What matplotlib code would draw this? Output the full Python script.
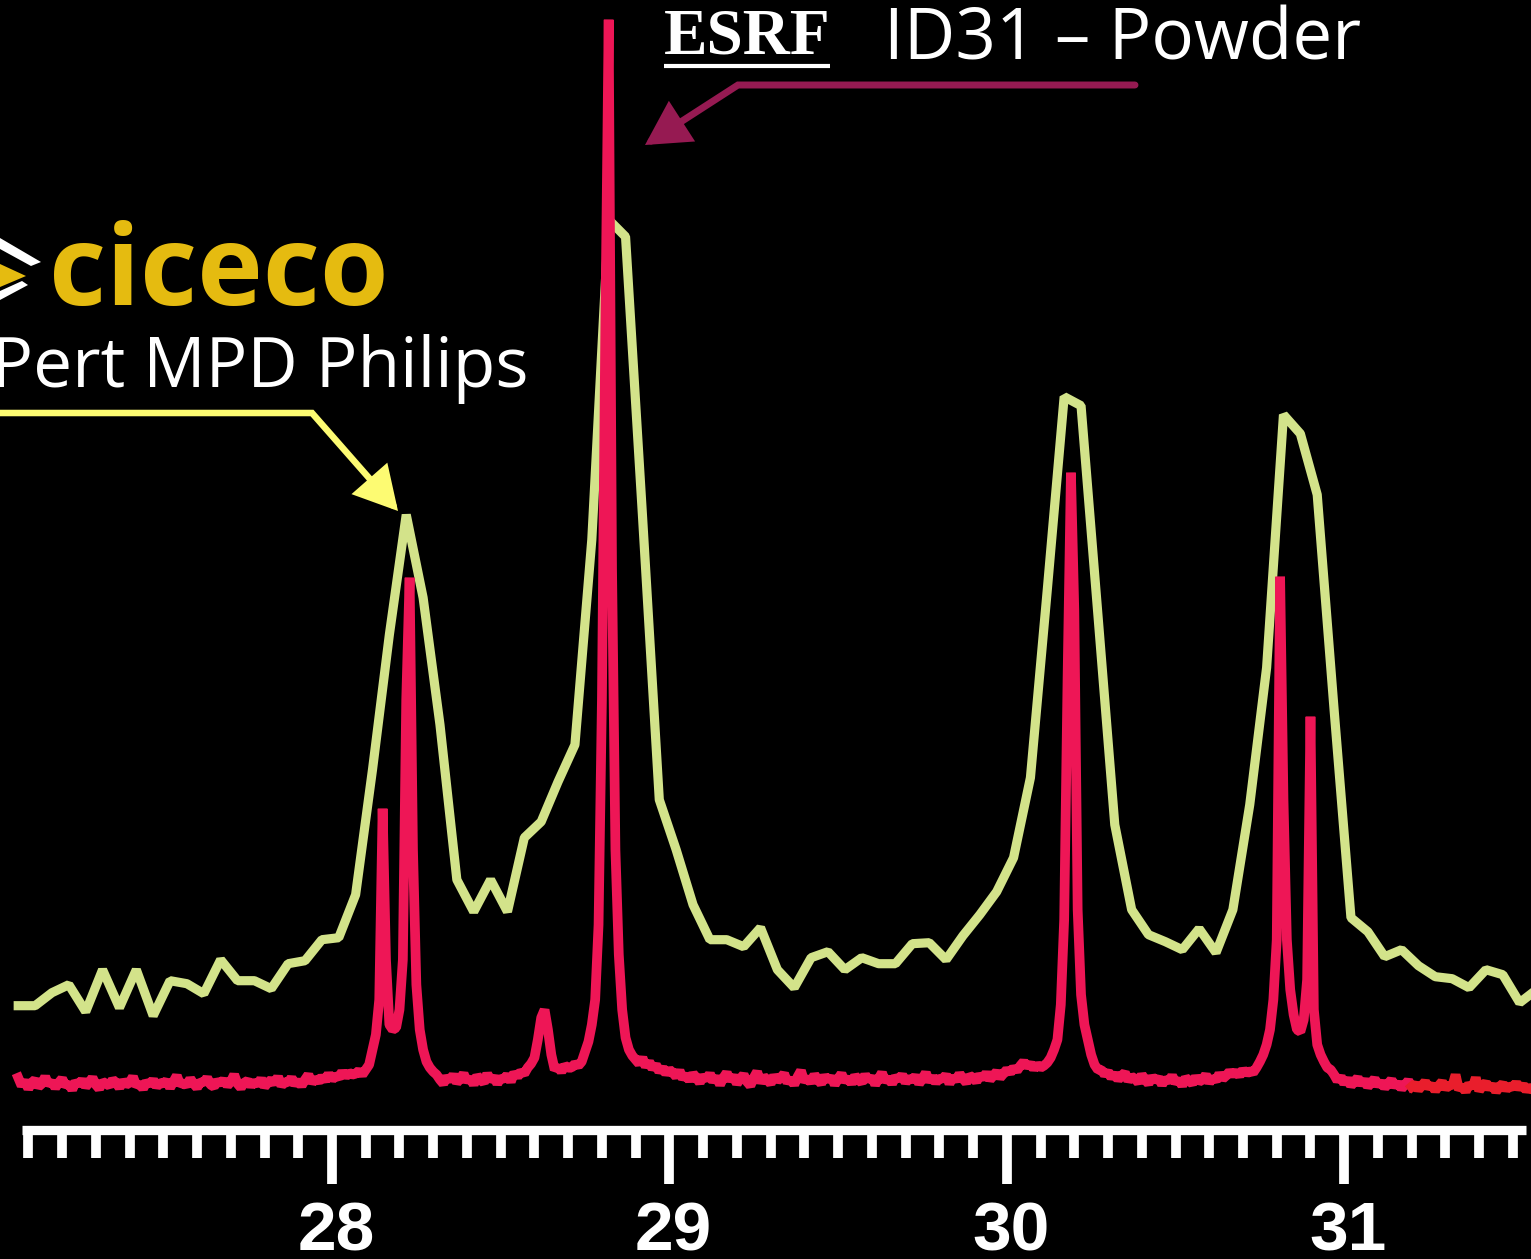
import numpy as np
import matplotlib
matplotlib.use('Agg')
import matplotlib.pyplot as plt
from matplotlib.patches import FancyArrowPatch, Polygon
from matplotlib.lines import Line2D
from matplotlib.path import Path
from matplotlib.ticker import MultipleLocator
from matplotlib.transforms import ScaledTranslation

plt.rcParams['font.family'] = ['Liberation Sans', 'DejaVu Sans']

# X'Pert MPD (lab diffractometer), 2theta step 0.05 deg
xpert_start, xpert_step = 27.07, 0.05
xpert_counts = [124, 124, 137, 145, 118, 160, 122, 160, 114, 149,
                146, 136, 170, 149, 149, 141, 166, 169, 190, 192,
                235, 360, 495, 615, 532, 405, 250, 218, 250, 218,
                292, 308, 348, 385, 590, 910, 893, 615, 330, 280,
                225, 190, 190, 183, 202, 160, 142, 172, 178, 160,
                172, 166, 166, 186, 187, 170, 194, 215, 238, 272,
                352, 540, 733, 724, 515, 305, 220, 195, 188, 180,
                201, 177, 220, 325, 462, 715, 696, 635, 420, 212,
                198, 173, 180, 164, 153, 151, 142, 160, 155, 127,
                140]

# ID31 synchrotron powder pattern, 2theta step 0.01 deg
id31_start, id31_step = 27.07, 0.01
id31_counts = [52, 44, 49, 41, 47, 50, 43, 46, 53, 45,
               48, 42, 47, 51, 44, 46, 40, 48, 45, 50,
               43, 47, 52, 45, 41, 48, 46, 44, 50, 47,
               42, 49, 45, 47, 53, 44, 46, 41, 48, 45,
               50, 43, 47, 46, 49, 42, 48, 54, 45, 47,
               44, 51, 46, 42, 48, 47, 52, 45, 43, 49,
               46, 50, 44, 48, 55, 46, 42, 47, 49, 44,
               48, 45, 51, 43, 47, 50, 46, 53, 44, 48,
               47, 52, 45, 49, 44, 50, 55, 47, 51, 48,
               53, 49, 56, 50, 54, 52, 58, 53, 57, 55,
               56, 59, 55, 60, 65, 80, 95, 130, 321, 170,
               105, 100, 102, 120, 170, 430, 552, 280, 145, 100,
               80, 68, 62, 58, 55, 50, 46, 53, 49, 55,
               47, 51, 56, 48, 52, 45, 54, 50, 47, 56,
               49, 53, 46, 52, 50, 55, 48, 57, 53, 58,
               56, 62, 66, 72, 90, 112, 120, 100, 75, 60,
               63, 58, 64, 62, 62, 66, 64, 68, 78, 88,
               105, 130, 205, 430, 800, 1110, 560, 280, 175, 120,
               92, 80, 74, 70, 66, 72, 63, 68, 61, 65,
               58, 62, 56, 60, 57, 53, 59, 51, 55, 49,
               56, 52, 47, 54, 50, 56, 48, 53, 45, 52,
               57, 49, 54, 46, 51, 55, 48, 44, 52, 58,
               47, 53, 50, 46, 54, 49, 52, 56, 47, 51,
               45, 53, 59, 48, 52, 47, 55, 50, 46, 54,
               49, 53, 45, 51, 56, 48, 52, 46, 54, 50,
               47, 55, 49, 53, 45, 51, 57, 48, 52, 46,
               53, 50, 55, 47, 52, 49, 54, 46, 51, 57,
               48, 53, 47, 52, 50, 55, 46, 53, 49, 56,
               51, 47, 54, 52, 48, 55, 51, 57, 50, 54,
               58, 52, 56, 60, 57, 62, 59, 64, 68, 63,
               66, 61, 65, 62, 64, 67, 72, 80, 90, 125,
               210, 450, 657, 520, 220, 135, 105, 90, 75, 65,
               60, 60, 55, 58, 52, 56, 50, 54, 57, 49,
               53, 51, 47, 55, 50, 46, 53, 49, 52, 45,
               51, 48, 54, 47, 50, 44, 52, 49, 46, 53,
               48, 50, 55, 47, 52, 49, 56, 51, 54, 58,
               55, 58, 54, 60, 56, 59, 57, 62, 68, 75,
               85, 100, 130, 190, 553, 330, 190, 140, 115, 100,
               98, 110, 150, 413, 120, 85, 75, 68, 62, 60,
               55, 49, 53, 46, 51, 44, 48, 52, 45, 50,
               43, 47, 51, 44, 48, 42, 46, 50, 43, 47,
               41, 45, 49, 43, 46, 40, 44, 48, 42, 45,
               39, 44, 48, 41, 45, 43, 55, 40, 44, 38,
               46, 42, 52, 39, 44, 47, 41, 45, 38, 43,
               46, 40, 44, 42, 47, 41, 45, 39, 43, 40]
id31_color_change = 31.20  # last part of the scan is drawn in a redder tone

major_ticks = [28, 29, 30, 31]

W, H = 1531, 1259


def fig_pt(x, y):
    # pixel position (from top-left) -> figure fraction
    return x / W, 1 - y / H


xpert_2theta = np.round(xpert_start + xpert_step * np.arange(len(xpert_counts)), 2)
id31_2theta = np.round(id31_start + id31_step * np.arange(len(id31_counts)), 2)
id31_counts = np.array(id31_counts)
split = int(np.argmin(np.abs(id31_2theta - id31_color_change)))

fig = plt.figure(figsize=(W / 100, H / 100), dpi=100, facecolor='black')
ax = fig.add_axes([0, 1 - 1129.7 / H, 1, 1129.7 / H])
ax.set_facecolor('black')

ax.plot(xpert_2theta, xpert_counts, color='#d3e38a', lw=6.6,
        solid_joinstyle='bevel', zorder=2)
ax.plot(id31_2theta[:split + 1], id31_counts[:split + 1], color='#ee1656',
        lw=7, solid_joinstyle='bevel', zorder=3)
ax.plot(id31_2theta[split:], id31_counts[split:], color='#e91e2c',
        lw=7, solid_joinstyle='bevel', zorder=3)

ax.set_xlim(27.016, 31.5536)
ax.set_ylim(0, 1129.7)

for side in ['left', 'right', 'top']:
    ax.spines[side].set_visible(False)
ax.spines['bottom'].set_color('white')
ax.spines['bottom'].set_linewidth(6.7)
ax.spines['bottom'].set_capstyle('butt')
ax.spines['bottom'].set_bounds(27.082, 31.538)

ax.set_yticks([])
ax.set_xticks(major_ticks)
ax.set_xticklabels([str(t) for t in major_ticks], fontsize=50,
                   fontweight='bold', color='white')
ax.xaxis.set_minor_locator(MultipleLocator(0.1))
ax.tick_params(axis='x', which='major', length=39, width=7, color='white',
               direction='out', pad=12)
ax.tick_params(axis='x', which='minor', length=20.5, width=7, color='white',
               direction='out')
for lab in ax.get_xticklabels():
    lab.set_transform(lab.get_transform() + ScaledTranslation(0.04, 0, fig.dpi_scale_trans))

# labels for the two instruments
fig.text(*fig_pt(49, 305), 'ciceco', color='#e5bb10', fontsize=80,
         fontweight='bold', family=['Open Sans', 'DejaVu Sans'],
         ha='left', va='baseline')
fig.text(*fig_pt(528, 387), "X'Pert MPD Philips", color='white', fontsize=50,
         family=['Open Sans', 'DejaVu Sans'], ha='right', va='baseline')
fig.text(*fig_pt(664, 53), 'ESRF', color='white', fontsize=47,
         fontweight='bold', family=['Liberation Serif', 'DejaVu Serif'],
         ha='left', va='baseline')
fig.text(*fig_pt(884, 60), 'ID31 \u2013 Powder', color='white', fontsize=51,
         family=['Open Sans', 'DejaVu Sans'], ha='left', va='baseline')

x0, y0 = fig_pt(664, 66)
x1, _ = fig_pt(830, 66)
fig.add_artist(Line2D([x0, x1], [y0, y0], lw=3, color='white', solid_capstyle='butt'))

# logo chevron next to ciceco
for pts, col in [([(0, 238), (0, 249), (31, 266), (41, 262)], 'white'),
                 ([(0, 264), (26, 276), (0, 287)], '#e5bb10'),
                 ([(0, 291), (0, 300), (28, 285), (22, 281)], 'white')]:
    fig.add_artist(Polygon([fig_pt(*p) for p in pts], closed=True,
                           transform=fig.transFigure, facecolor=col, edgecolor='none'))

# arrows pointing at the two patterns
for verts, col, lw in [([(-5, 413), (312, 413), (398, 511)], '#fdfb72', 4.7),
                       ([(1135, 85), (738, 85), (645, 145)], '#961a52', 5.0)]:
    arrow = FancyArrowPatch(path=Path([fig_pt(*v) for v in verts]),
                            arrowstyle='-|>,head_length=0.4,head_width=0.22',
                            mutation_scale=60, lw=lw, color=col,
                            transform=fig.transFigure, joinstyle='miter')
    fig.add_artist(arrow)

fig.savefig('out.png', dpi=100, facecolor='black')
